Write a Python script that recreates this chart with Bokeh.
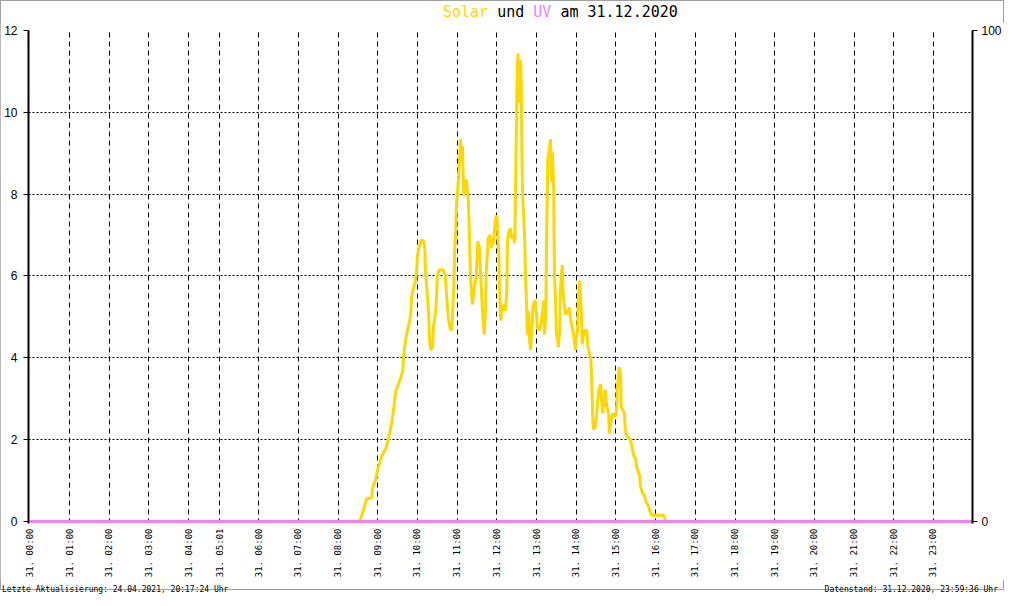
import math
from bokeh.plotting import figure
from bokeh.models import Range1d, LinearAxis, FixedTicker, Div
from bokeh.layouts import column
from bokeh.embed import file_html
from bokeh.resources import INLINE

# ---------------- data ----------------
# x axis is record-based: 14 minutes of records are missing between 04:00 and 05:01
GAP_MIN = 14
tick_labels = ["00:00", "01:00", "02:00", "03:00", "04:00", "05:01", "06:00", "07:00",
               "08:00", "09:00", "10:00", "11:00", "12:00", "13:00", "14:00", "15:00",
               "16:00", "17:00", "18:00", "19:00", "20:00", "21:00", "22:00", "23:00"]
day_prefix = "31."

# solar (minute of day, value)
solar_min = [0, 511, 514, 519, 523, 531, 532, 537, 540, 544,
             546, 552, 556, 561, 565, 567, 571, 574, 578, 579,
             582, 585, 590, 591, 594, 597, 599, 600, 603, 606,
             609, 611, 612, 614, 617, 618, 620, 623, 624, 627,
             629, 630, 633, 639, 642, 644, 647, 650, 652, 653,
             655, 656, 658, 659, 662, 664, 665, 667, 668, 670,
             673, 674, 677, 679, 680, 682, 683, 686, 689, 691,
             694, 695, 698, 701, 703, 704, 707, 710, 712, 715,
             718, 720, 721, 723, 724, 726, 727, 730, 733, 735,
             736, 738, 741, 742, 744, 747, 748, 750, 751, 752,
             753, 756, 757, 758, 759, 762, 763, 765, 766, 768,
             769, 771, 774, 775, 778, 780, 781, 785, 788, 791,
             792, 794, 795, 797, 800, 801, 803, 804, 806, 807,
             809, 810, 812, 813, 815, 816, 818, 819, 820, 822,
             824, 827, 830, 831, 833, 836, 839, 840, 842, 843,
             845, 846, 848, 849, 852, 856, 857, 859, 860, 862,
             863, 864, 865, 866, 869, 871, 874, 877, 878, 880,
             883, 884, 886, 889, 890, 893, 895, 899, 901, 902,
             905, 907, 908, 910, 913, 914, 917, 922, 924, 927,
             930, 931, 936, 937, 940, 943, 946, 949, 952, 954,
             972, 975, 976, 1439]
solar_val = [0, 0, 0.06, 0.31, 0.55, 0.58, 0.82, 1.04, 1.28, 1.48,
             1.6, 1.77, 2.0, 2.4, 2.88, 3.17, 3.34, 3.48, 3.7, 4.05,
             4.43, 4.67, 5.06, 5.47, 5.71, 5.88, 6.19, 6.51, 6.75, 6.87,
             6.87, 6.68, 6.19, 5.71, 5.06, 4.5, 4.19, 4.26, 4.74, 5.06,
             5.54, 6.02, 6.15, 6.15, 6.02, 5.54, 4.91, 4.69, 4.69, 5.06,
             5.71, 6.51, 7.16, 7.72, 8.37, 8.93, 9.34, 8.8, 9.17, 7.96,
             8.3, 8.37, 7.81, 6.75, 6.02, 5.54, 5.3, 5.71, 6.02, 6.85,
             6.68, 6.19, 5.23, 4.57, 5.23, 6.12, 6.92, 7.0, 6.68, 6.85,
             7.4, 7.48, 7.16, 6.51, 5.71, 4.91, 5.06, 5.3, 5.15, 5.64,
             6.85, 7.09, 7.16, 6.92, 7.0, 6.8, 7.89, 10.14, 11.1, 11.44,
             10.23, 11.27, 10.55, 8.78, 7.96, 6.92, 6.19, 5.23, 4.57, 5.15,
             4.5, 4.19, 5.06, 5.3, 5.4, 5.06, 4.74, 4.67, 4.98, 5.4,
             4.57, 4.98, 6.6, 8.86, 9.17, 9.34, 8.3, 9.02, 8.06, 6.12,
             5.23, 4.57, 4.43, 4.26, 4.67, 5.64, 6.12, 6.27, 5.64, 5.3,
             5.06, 5.15, 5.23, 4.98, 4.82, 4.57, 4.19, 4.5, 4.67, 5.3,
             5.88, 5.64, 5.06, 4.33, 4.67, 4.67, 4.33, 4.19, 4.09, 4.02,
             3.6, 3.12, 2.49, 2.25, 2.32, 2.64, 3.22, 3.36, 3.05, 2.64,
             3.12, 3.22, 2.81, 2.64, 2.15, 2.49, 2.64, 2.56, 2.73, 3.22,
             3.77, 3.6, 2.81, 2.73, 2.64, 2.25, 2.08, 2.0, 1.84, 1.6,
             1.52, 1.35, 1.11, 0.87, 0.7, 0.63, 0.46, 0.39, 0.22, 0.15,
             0.15, 0.02, 0, 0]

# UV (minute of day, value) - zero all day
uv_min = [0, 1439]
uv_val = [0, 0]

left_ticks = [0, 2, 4, 6, 8, 10, 12]
right_ticks = [0, 100]

SOLAR_COLOR = "#FFD700"
UV_COLOR = "#EE82EE"
title_parts = [("Solar", SOLAR_COLOR), (" und ", "black"), ("UV", UV_COLOR), (" am 31.12.2020", "black")]
footer_left = "Letzte Aktualisierung: 24.04.2021, 20:17:24 Uhr"
footer_right = "Datenstand: 31.12.2020, 23:59:36 Uhr"


def to_minutes(hhmm):
    h, m = hhmm.split(":")
    return int(h) * 60 + int(m)


def pos(m):
    return m - GAP_MIN if m > 240 else m


tick_pos = [pos(to_minutes(t)) for t in tick_labels]
solar_x = [pos(m) for m in solar_min]
uv_x = [pos(m) for m in uv_min]

# ---------------- layout sizes ----------------
W = 1004
TITLE_H = 22
FOOT_H = 10
FIG_H = 590 - TITLE_H - FOOT_H
BL, BR, BT, BB = 28, 29, 8, 56

# ---------------- title ----------------
title_html = "".join(
    f'<span style="color:{c}">{t.replace(" ", "&nbsp;")}</span>' for t, c in title_parts)
title_div = Div(
    text=f'<div style="padding:2px 0 0 443px; margin:0; font-family:\'DejaVu Sans Mono\', monospace;'
         f' font-size:15px; line-height:20px; white-space:nowrap;">{title_html}</div>',
    width=W, height=TITLE_H, margin=0)

# ---------------- figure ----------------
p = figure(width=W, height=FIG_H, output_backend="svg", toolbar_location=None,
           x_range=Range1d(-2, pos(1439)), y_range=Range1d(-0.05, 12),
           min_border_left=BL, min_border_right=BR, min_border_top=BT, min_border_bottom=BB,
           margin=0)
p.outline_line_color = None
p.background_fill_color = "white"
p.border_fill_color = "white"

# grids (the 00:00 line coincides with the left axis)
p.xgrid.ticker = FixedTicker(ticks=[t for t in tick_pos if t > 0])
p.xgrid.grid_line_color = "black"
p.xgrid.grid_line_dash = "5 4"
p.xgrid.grid_line_width = 1
p.ygrid.ticker = FixedTicker(ticks=left_ticks[1:])
p.ygrid.grid_line_color = "black"
p.ygrid.grid_line_dash = "2 2"
p.ygrid.grid_line_width = 1

# x axis
xa = p.xaxis[0]
xa.ticker = FixedTicker(ticks=tick_pos)
xa.major_label_overrides = {tp: f"{day_prefix} {lab}" for tp, lab in zip(tick_pos, tick_labels)}
xa.major_label_orientation = math.pi / 2
xa.major_label_text_font = "DejaVu Sans Mono"
xa.major_label_text_font_size = "9px"
xa.major_label_text_color = "black"
xa.major_label_standoff = 5
xa.major_tick_out = 0
xa.major_tick_in = 0
xa.minor_tick_out = 0
xa.minor_tick_in = 0
xa.axis_line_color = None
xa.major_tick_line_color = None
xa.minor_tick_line_color = None

# left y axis
ya = p.yaxis[0]
ya.ticker = FixedTicker(ticks=left_ticks)
ya.major_label_text_font = "Liberation Sans"
ya.major_label_text_font_size = "12px"
ya.major_label_text_color = "black"
ya.major_label_standoff = 6
ya.major_tick_out = 5
ya.major_tick_in = 0
ya.minor_tick_line_color = None
ya.axis_line_width = 2
ya.axis_line_color = "black"
ya.major_tick_line_color = "black"

# right axis (UV)
p.extra_y_ranges = {"uv": Range1d(-0.05 / 12 * 100, 100)}
ra = LinearAxis(y_range_name="uv", ticker=FixedTicker(ticks=right_ticks))
ra.major_label_text_font = "Liberation Sans"
ra.major_label_text_font_size = "12px"
ra.major_label_text_color = "black"
ra.major_label_standoff = 4
ra.major_tick_out = 5
ra.major_tick_in = 0
ra.minor_tick_line_color = None
ra.axis_line_width = 2
ra.axis_line_color = "black"
ra.major_tick_line_color = "black"
p.add_layout(ra, "right")

# data lines
p.line(solar_x, solar_val, line_color=SOLAR_COLOR, line_width=3)
p.line(uv_x, uv_val, line_color=UV_COLOR, line_width=3, y_range_name="uv")

# ---------------- footer ----------------
footer_div = Div(
    text=f'<div style="display:flex; justify-content:space-between; width:{W - 6}px; padding:0 0 0 2px;'
         f' margin:0; font-family:\'DejaVu Sans Mono\', monospace; font-size:8px; line-height:10px;'
         f' white-space:nowrap; color:black;"><span>{footer_left}</span><span>{footer_right}</span></div>',
    width=W, height=FOOT_H, margin=0)

layout = column(title_div, p, footer_div, spacing=0,
                styles={"outline": "1px solid #a0a0a0", "outline-offset": "-1px",
                        "background-color": "white"})

open("out.html", "w").write(file_html(layout, INLINE))
